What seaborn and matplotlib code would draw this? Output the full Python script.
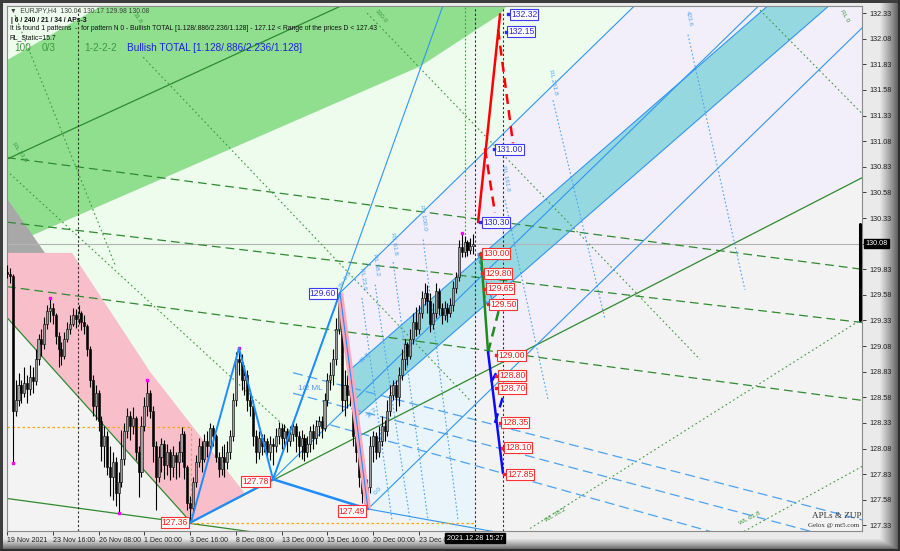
import numpy as np
import pandas as pd
import matplotlib
matplotlib.use("Agg")
import matplotlib.pyplot as plt
from matplotlib.patches import Polygon
import seaborn as sns

sns.set_theme(style="white")
plt.rcParams['font.family'] = ['Liberation Sans', 'DejaVu Sans']

# ---------------- EURJPY H4 candles, bar 0 = 19 Nov 2021 00:00
first_open = 129.80
close = [
    129.78, 129.76, 128.45, 128.55, 128.70, 128.62, 128.72, 128.66, 128.78, 128.74,
    128.95, 129.15, 129.10, 129.30, 129.42, 129.45, 129.38, 129.18, 129.05, 128.98,
    129.15, 129.25, 129.30, 129.38, 129.34, 129.40, 129.32, 129.28, 129.05, 128.75,
    128.50, 128.62, 128.35, 128.10, 128.20, 127.90, 127.80, 127.95, 127.65, 127.75,
    127.98, 128.25, 128.40, 128.30, 128.38, 128.05, 127.85, 128.30, 128.50, 128.62,
    128.45, 128.10, 127.80, 128.00, 128.12, 127.92, 128.05, 127.90, 128.02, 127.95,
    128.05, 128.22, 127.90, 127.55, 127.50, 127.75, 127.95, 128.10, 127.98, 128.15,
    128.10, 128.28, 128.20, 128.00, 127.88, 128.00, 127.95, 128.05, 128.20, 128.55,
    128.95, 128.92, 128.75, 128.80, 128.55, 128.50, 128.20, 128.05, 128.18, 128.10,
    128.15, 128.05, 128.12, 128.10, 128.20, 128.28, 128.18, 128.25, 128.15, 128.22,
    128.30, 128.20, 128.10, 128.18, 128.05, 128.12, 128.25, 128.18, 128.30, 128.35,
    128.28, 128.55, 128.75, 128.80, 128.95, 129.25, 129.50, 128.55, 128.70, 128.60,
    128.65, 128.20, 128.05, 127.80, 127.65, 127.55, 127.70, 128.10, 128.20, 128.05,
    128.15, 128.30, 128.25, 128.45, 128.60, 128.70, 128.58, 128.80, 128.95, 129.10,
    128.98, 129.15, 129.32, 129.25, 129.40, 129.55, 129.60, 129.52, 129.30, 129.40,
    129.62, 129.45, 129.38, 129.45, 129.40, 129.48, 129.65, 129.75, 130.05, 130.00,
    130.10, 130.02, 130.06, 130.08]
high = [
    129.87, 129.84, 129.78, 128.75, 128.82, 128.75, 128.88, 128.80, 128.90, 128.88,
    129.05, 129.20, 129.25, 129.36, 129.48, 129.55, 129.50, 129.40, 129.22, 129.12,
    129.22, 129.32, 129.38, 129.45, 129.44, 129.48, 129.42, 129.38, 129.30, 129.08,
    128.80, 128.70, 128.65, 128.40, 128.30, 128.25, 128.10, 128.05, 128.00, 127.85,
    128.26, 128.33, 128.48, 128.45, 128.49, 128.40, 128.10, 128.40, 128.58, 128.75,
    128.65, 128.50, 128.15, 128.10, 128.18, 128.16, 128.12, 128.08, 128.10, 128.05,
    128.15, 128.29, 128.25, 127.92, 127.62, 127.80, 128.02, 128.18, 128.15, 128.22,
    128.25, 128.33, 128.31, 128.22, 128.05, 128.10, 128.12, 128.15, 128.26, 128.62,
    129.02, 129.06, 129.00, 128.90, 128.85, 128.62, 128.55, 128.26, 128.25, 128.22,
    128.22, 128.18, 128.20, 128.18, 128.28, 128.34, 128.32, 128.32, 128.28, 128.30,
    128.36, 128.33, 128.25, 128.26, 128.22, 128.20, 128.30, 128.32, 128.36, 128.40,
    128.40, 128.62, 128.82, 128.92, 129.05, 129.35, 129.60, 129.55, 128.85, 128.80,
    128.88, 128.70, 128.30, 128.10, 127.88, 127.75, 127.78, 128.20, 128.25, 128.24,
    128.30, 128.40, 128.36, 128.55, 128.70, 128.75, 128.75, 128.88, 129.05, 129.15,
    129.12, 129.25, 129.40, 129.46, 129.48, 129.62, 129.70, 129.68, 129.60, 129.50,
    129.70, 129.65, 129.50, 129.52, 129.50, 129.55, 129.72, 129.80, 130.12, 130.18,
    130.15, 130.12, 130.14, 130.17]
low = [
    129.74, 129.70, 127.94, 128.40, 128.50, 128.52, 128.58, 128.52, 128.60, 128.62,
    128.70, 128.90, 128.98, 129.05, 129.25, 129.32, 129.30, 129.10, 128.88, 128.90,
    128.95, 129.12, 129.20, 129.28, 129.26, 129.30, 129.24, 129.20, 128.98, 128.68,
    128.40, 128.36, 128.25, 127.96, 127.90, 127.82, 127.62, 127.58, 127.52, 127.45,
    127.70, 127.92, 128.18, 128.16, 128.22, 127.97, 127.61, 127.80, 128.25, 128.40,
    128.38, 127.95, 127.48, 127.75, 127.85, 127.78, 127.82, 127.77, 127.80, 127.78,
    127.80, 127.95, 127.78, 127.48, 127.36, 127.45, 127.70, 127.90, 127.85, 127.95,
    128.00, 128.05, 128.10, 127.95, 127.80, 127.82, 127.80, 127.88, 127.98, 128.15,
    128.50, 128.80, 128.65, 128.60, 128.45, 128.40, 128.10, 127.94, 127.98, 128.02,
    128.05, 127.98, 127.97, 127.92, 128.05, 128.12, 128.08, 128.10, 128.05, 128.10,
    128.15, 128.05, 128.00, 127.98, 127.96, 128.00, 128.05, 128.08, 128.12, 128.20,
    128.18, 128.25, 128.50, 128.65, 128.70, 128.90, 129.20, 128.45, 128.40, 128.48,
    128.50, 128.10, 127.95, 127.70, 127.55, 127.49, 127.49, 127.65, 127.95, 127.98,
    128.00, 128.10, 128.15, 128.20, 128.40, 128.55, 128.45, 128.50, 128.75, 128.85,
    128.90, 128.95, 129.10, 129.18, 129.20, 129.35, 129.48, 129.40, 129.22, 129.25,
    129.35, 129.38, 129.30, 129.33, 129.32, 129.36, 129.42, 129.60, 129.72, 129.95,
    129.95, 129.96, 129.98, 129.98]

date_ticks = [0, 16, 32, 48, 64, 80, 96, 112, 128, 144]
date_labels = ["19 Nov 2021", "23 Nov 16:00", "26 Nov 08:00", "1 Dec 00:00", "3 Dec 16:00",
               "8 Dec 08:00", "13 Dec 00:00", "15 Dec 16:00", "20 Dec 00:00", "23 Dec 00:00"]
price_ticks = [127.33, 127.58, 127.83, 128.08, 128.33, 128.58, 128.83, 129.08, 129.33, 129.58,
               129.83, 130.08, 130.33, 130.58, 130.83, 131.08, 131.33, 131.58, 131.83, 132.08, 132.33]
last_price = 130.08
cursor_bar = 163.6
cursor_label = "2021.12.28 15:27"

# ---------------- ZUP zigzag pivots (bar, price)
zz_bar = [64.3, 81.1, 93.0, 116.4]
zz_price = [127.36, 129.06, 127.78, 129.60]
leg_bar = [116.4, 126.2]
leg_price = [129.60, 127.49]
pivot_bar = [2, 15, 39, 49, 81, 159]
pivot_price = [127.94, 129.55, 127.45, 128.75, 129.06, 130.18]

# ---------------- filled zones (bar, price)
green_band = [(-2, 131.84), (36, 132.45), (176, 132.45), (172.4, 132.32), (144.4, 131.81), (-2, 130.03)]
gray_tri = [(-2, 130.60), (-2, 129.99), (13.3, 129.99)]
pink_zone = [(-2, 129.99), (22.7, 129.99), (50, 128.83), (83.2, 127.64), (64.3, 127.36), (-2, 129.42)]
grey_zone = [(-2, 129.42), (64.3, 127.36), (305, 130.81), (305, 127.0), (-2, 127.0)]
lavender_zone = [(116.4, 129.60), (230, 132.69), (305, 132.69), (305, 130.81), (122.9, 128.20)]
lightblue_zone = [(122.0, 128.385), (163.6, 129.40), (163.6, 127.20), (126.2, 127.49)]
cyan_band = [(119.9, 128.848), (305, 133.35), (305, 132.83), (122.0, 128.385)]

# ---------------- line objects ((bar0, price0), (bar1, price1))
green_solid = [((-2, 129.42), (64.3, 127.36)), ((-2, 127.60), (90, 127.25)),
               ((64.3, 127.36), (305, 130.81)), ((-2, 130.88), (130, 132.57))]
green_dashed = [((0, 130.92), (299, 129.83)), ((0, 130.29), (299, 129.31)), ((0, 129.66), (299, 128.55))]
green_dotted = [((47.6, 131.90), (161.9, 128.55)), ((-2.4, 130.85), (102.4, 128.16)),
                ((125.9, 132.33), (242.3, 128.95)), ((263.3, 132.36), (299.3, 131.34)),
                ((2.8, 132.31), (37.8, 129.87)), ((182.9, 127.30), (299.3, 129.35)),
                ((256.3, 127.25), (299.3, 127.91))]
fork_lines = [((116.4, 129.60), (305, 134.73)), ((126.2, 127.49), (305, 132.35)),
              ((93.0, 127.78), (305, 133.55)), ((119.9, 128.848), (305, 133.35)),
              ((122.0, 128.385), (305, 132.83)), ((93.0, 127.78), (152.5, 132.41)),
              ((126.2, 127.49), (170, 127.27))]
blue_dashed = [((100, 128.82), (305, 127.34)), ((100, 128.62), (300, 127.13)), ((108, 128.35), (260, 127.16))]
rl_dotted = [((124.1, 129.55), (134.6, 127.38)), ((128.7, 129.68), (140.9, 127.38)),
             ((135.0, 129.90), (147.2, 127.38)), ((145.5, 130.12), (157.7, 127.38)),
             ((174.1, 130.51), (189.2, 128.55)), ((190.9, 131.48), (209.1, 129.34)),
             ((238.1, 132.12), (258.0, 129.63))]
orange_path_bar = [0, 64.3, 64.3, 163.6]
orange_path_price = [128.29, 128.29, 127.35, 127.35]
vlines_black = [24.8, 163.6, 173.4]
vline_green = 160.1

# projections of the found pattern
red_solid = [((164.7, 130.29), (172.4, 132.32))]
red_dashed = [((171.7, 132.17), (176.9, 131.06)), ((167.1, 131.01), (170.6, 130.38))]
grn_proj = [((165.7, 129.99), (168.2, 129.02))]
grn_proj_dash = [((168.2, 129.02), (172.4, 129.48))]
blue_proj = [((168.2, 129.02), (173.4, 127.84))]
blue_proj_dash = [((169.3, 128.73), (171.3, 128.83)), ((170.6, 128.33), (174.1, 128.65))]
lblue_proj_dash = [((164.7, 129.99), (167.5, 129.50)), ((164.7, 129.97), (169.6, 129.53))]

# level labels (bar, price, text, alignment)
red_labels = [(63.3, 127.36, "127.36", "right"), (91.5, 127.76, "127.78", "right"),
              (125.2, 127.47, "127.49", "right"), (166.4, 129.98, "130.00", "left"),
              (167.1, 129.79, "129.80", "left"), (167.8, 129.64, "129.65", "left"),
              (168.9, 129.49, "129.50", "left"), (171.7, 128.99, "129.00", "left"),
              (172.0, 128.79, "128.80", "left"), (172.0, 128.67, "128.70", "left"),
              (173.1, 128.33, "128.35", "left"), (174.1, 128.09, "128.10", "left"),
              (174.8, 127.83, "127.85", "left")]
blue_labels = [(115.0, 129.59, "129.60", "right"), (166.4, 130.29, "130.30", "left"),
               (171.0, 131.00, "131.00", "left"), (175.2, 132.15, "132.15", "left"),
               (176.2, 132.32, "132.32", "left")]
blue_rot = [(124.3, 129.74, "RL 23.6", -82), (128.9, 129.88, "RL 38.2", -82),
            (135.2, 130.08, "RL 61.8", -82), (145.7, 130.33, "RL 100.0", -82),
            (174.3, 130.72, "RL 161.8", -80), (191.1, 131.66, "RL 261.8", -78),
            (238.3, 132.28, "423.6", -78), (118.2, 129.72, "Ufe 0.0", 55),
            (125.2, 128.97, "61.8", 45), (127.6, 128.43, "38.2", 45), (129.7, 127.67, "0.0", 45)]
green_rot = [(4.5, 130.97, "RL 23.6", -55), (130.8, 132.30, "100.0", -50), (45.8, 132.28, "31.8", -55),
             (293.0, 132.30, "RL 0", -60), (191.6, 127.43, "WL 38.2", 30), (259.8, 127.40, "WL 61.8", 28)]

# ---------------- figure
fig = plt.figure(figsize=(9, 5.51), dpi=100)
W, H = 900, 551

# bevelled terminal frame
bg = fig.add_axes([0, 0, 1, 1], zorder=-10)
yy, xx = np.mgrid[0:H, 0:W]
edge = np.minimum(np.clip((W - 1 - xx) / 20.0, 0, 1), np.clip((H - 1 - yy) / 12.0, 0, 1))
shade = 0.92 * (0.3 + 0.7 * edge ** 0.8)
shade[:3, :] = 0.24
shade[:, :3] = 0.24
shade[-2:, :] = 0.18
shade[:, -2:] = 0.18
bg.imshow(np.dstack([shade] * 3), aspect="auto", extent=(0, 1, 0, 1))
bg.axis("off")

ax = fig.add_axes([6.5 / W, 1 - 531 / H, 855.5 / W, 525 / H])
ax.set_facecolor("#eefcee")
ax.set_xlim(-0.2, 298.95)
ax.set_ylim(127.275, 132.40)


def poly(pts, color, z=0.5, alpha=1.0):
    ax.add_patch(Polygon(pts, closed=True, facecolor=color, edgecolor="none", zorder=z, alpha=alpha))


def lines(segs, **kw):
    for (a, b) in segs:
        ax.plot([a[0], b[0]], [a[1], b[1]], **kw)


poly(grey_zone, "#f3f3f3", 0.2)
poly(lavender_zone, "#f3effa", 0.3)
poly(lightblue_zone, "#eaf4fb", 0.35)
poly(green_band, "#8fdf8f", 0.4)
poly(gray_tri, "#a8a8a8", 0.45)
poly(pink_zone, "#f8bfca", 0.5)
poly(cyan_band, "#96d8e0", 0.6)

lines(green_dashed, color="#2e8b2e", lw=0.9, dashes=(7, 4), zorder=1.5)
lines(green_dotted, color="#3c9a3c", lw=0.8, dashes=(1.5, 2.5), zorder=1.5)
lines(green_solid, color="#2e8b2e", lw=0.9, zorder=1.6)
lines(blue_dashed, color="#4aa3f5", lw=0.9, dashes=(8, 4), zorder=1.7)
lines(rl_dotted, color="#4aa3f5", lw=0.8, dashes=(1.5, 2.0), zorder=1.7)
lines(fork_lines, color="#2f96f2", lw=0.8, zorder=1.8)

ax.axhline(last_price, color="#b4b4b4", lw=0.8, zorder=1.2)
ax.plot(orange_path_bar, orange_path_price, color="#ffa500", lw=0.9, dashes=(2, 2), zorder=1.9)
for vb in vlines_black:
    ax.axvline(vb, color="#303030", lw=0.8, dashes=(2, 2), zorder=1.9)
ax.plot([vline_green, vline_green], [130.02, 132.45], color="#3c9a3c", lw=0.8, dashes=(1.5, 2), zorder=1.9)

# candles
df = pd.DataFrame({"close": close, "high": high, "low": low})
df["open"] = [first_open] + close[:-1]
df["bar"] = np.arange(len(df))
up = df["close"] >= df["open"]
top = np.maximum.reduce([df["high"], df["open"], df["close"]])
bot = np.minimum.reduce([df["low"], df["open"], df["close"]])
ax.vlines(df["bar"], bot, top, color="black", lw=0.8, zorder=3)
body = np.maximum((df["close"] - df["open"]).abs(), 0.006)
ax.bar(df["bar"], body, bottom=np.minimum(df["open"], df["close"]), width=0.72,
       color=np.where(up, "#9c9c9c", "#000000"), edgecolor="black", linewidth=0.4, zorder=3.2)
ax.scatter(pivot_bar, pivot_price, marker="s", s=3, color="#ff00ff", zorder=3.5)

# ZUP zigzag
ax.plot(leg_bar, leg_price, color="#ffa8ba", lw=4.5, solid_capstyle="butt", zorder=3.6)
sns.lineplot(x=zz_bar, y=zz_price, ax=ax, color="#1e8cff", lw=1.4, sort=False, estimator=None, zorder=3.7)
ax.plot(leg_bar, leg_price, color="#1e8cff", lw=0.8, zorder=3.7)
ax.plot([zz_bar[0], zz_bar[2]], [zz_price[0], zz_price[2]], color="#1e8cff", lw=1.6, zorder=3.7)
ax.plot([zz_bar[2], leg_bar[1]], [zz_price[2], leg_price[1]], color="#1e8cff", lw=1.8, zorder=3.7)

# pattern projections
lines(red_solid, color="#ff0000", lw=1.8, zorder=4)
lines(red_dashed, color="#ff0000", lw=1.8, dashes=(4, 2.5), zorder=4)
lines(lblue_proj_dash, color="#3d9df5", lw=1.0, dashes=(3, 2), zorder=4)
lines(grn_proj, color="#1f8a1f", lw=1.8, zorder=4)
lines(grn_proj_dash, color="#1f8a1f", lw=1.8, dashes=(4, 2.5), zorder=4)
lines(blue_proj, color="#0a0aff", lw=1.8, zorder=4)
lines(blue_proj_dash, color="#0a0aff", lw=1.8, dashes=(4, 2.5), zorder=4)

# level labels
for bx, py, txt, ha in red_labels:
    ax.text(bx, py, txt, ha=ha, va="center", fontsize=6.2, color="#ff1a1a", zorder=6,
            bbox=dict(boxstyle="square,pad=0.12", fc="white", ec="#ff3030", lw=0.8))
    if ha == "left":
        ax.scatter([bx - 0.9], [py], marker="s", s=4, color="#ff2020", zorder=6)
for bx, py, txt, ha in blue_labels:
    ax.text(bx, py, txt, ha=ha, va="center", fontsize=6.2, color="#2a2ad8", zorder=6,
            bbox=dict(boxstyle="square,pad=0.12", fc="white", ec="#3a3aff", lw=0.8))
    if ha == "left":
        ax.scatter([bx - 0.9], [py], marker="s", s=4, color="#2a2aff", zorder=6)
for bx, py, txt, rot in blue_rot:
    ax.text(bx, py, txt, rotation=rot, fontsize=4.6, color="#4aa3f5", ha="center", va="center",
            zorder=5, rotation_mode="anchor")
for bx, py, txt, rot in green_rot:
    ax.text(bx, py, txt, rotation=rot, fontsize=4.6, color="#3c9a3c", ha="center", va="center",
            zorder=5, rotation_mode="anchor")
ax.text(101.7, 128.67, "1/2 ML", fontsize=5.8, color="#4a90e8", ha="left", va="center", zorder=5)

# axes, ticks (the last price tag stands in for its own tick label)
for s in ax.spines.values():
    s.set_color("#8a8a8a")
    s.set_linewidth(0.8)
ax.yaxis.tick_right()
ax.set_yticks(price_ticks)
ax.set_yticklabels(["" if v == last_price else f"{v:.2f}" for v in price_ticks])
ax.set_xticks(date_ticks)
ax.set_xticklabels(date_labels)
for lbl in ax.get_xticklabels():
    lbl.set_horizontalalignment("left")
ax.tick_params(axis="y", direction="out", length=3, width=0.6, pad=2, labelsize=5.2,
               colors="#202020", right=True, left=False)
ax.tick_params(axis="x", direction="out", length=3, width=0.6, pad=1.5, labelsize=5.0,
               colors="#202020", bottom=True)
ax.grid(False)

ax.text(1.004, last_price, f"{last_price:.2f}", transform=ax.get_yaxis_transform(), ha="left",
        va="center", fontsize=5.2, color="white", zorder=7, clip_on=False,
        bbox=dict(boxstyle="square,pad=0.15", fc="black", ec="black"))
ax.plot([298.2, 298.2], [130.27, 129.33], color="black", lw=2.2, zorder=7, clip_on=False)
ax.text(cursor_bar, -0.007, cursor_label, transform=ax.get_xaxis_transform(), ha="center",
        va="top", fontsize=5.2, color="white", zorder=7, clip_on=False,
        bbox=dict(boxstyle="square,pad=0.2", fc="black", ec="black"))


# header texts of the terminal window
def ftext(x, y, s, **kw):
    fig.text(x / W, 1 - y / H, s, va="center", **kw)


ftext(10, 11, "\u25bc  EURJPY,H4  130.04 130.17 129.98 130.08", fontsize=4.9, color="#404040")
ftext(11, 20, "| 6 / 240 / 21 / 34 / APs-3", fontsize=4.9, color="#101010", fontweight="bold")
ftext(10, 29, "It is found 1 patterns  -  for pattern N 0 - Bullish TOTAL [1.128/.886/2.236/1.128]"
              " - 127.12 < Range of the prices D < 127.43", fontsize=4.9, color="#101010")
ftext(10, 37.5, "RL_Static=15.7", fontsize=4.9, color="#101010")
ftext(14, 48, "100", fontsize=7.2, color="#3c9a3c")
ftext(42, 48, "0/3", fontsize=7.2, color="#3c9a3c")
ftext(84, 48, "1-2-2-2", fontsize=7.2, color="#3c9a3c")
ftext(127, 48, "Bullish TOTAL [1.128/.886/2.236/1.128]", fontsize=7.2, color="#1f1fe6")
ftext(812, 516, "APLs & ZUP", fontsize=6.6, color="#303030", family=["Liberation Serif", "DejaVu Serif"])
ftext(808, 526, "Gelox @ mt5.com", fontsize=5.0, color="#303030", family=["Liberation Serif", "DejaVu Serif"])

fig.savefig("out.png", dpi=100)
